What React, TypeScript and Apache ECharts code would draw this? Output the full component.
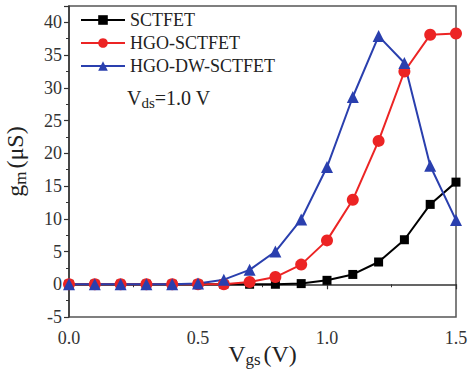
import React, { useEffect, useRef } from "react";
import * as echarts from "echarts";

// Gate voltage sweep (V)
const vgs = [0, 0.1, 0.2, 0.3, 0.4, 0.5, 0.6, 0.7, 0.8, 0.9, 1.0, 1.1, 1.2, 1.3, 1.4, 1.5];

// Transconductance g_m (µS) for each device
const sctfet = [0, 0, 0, 0, 0, 0, 0, 0, 0, 0.1, 0.6, 1.5, 3.4, 6.8, 12.2, 15.6];
const hgoSctfet = [0, 0, 0, 0, 0, 0, 0, 0.35, 1.1, 3.0, 6.7, 12.9, 21.9, 32.5, 38.1, 38.3];
const hgoDwSctfet = [0, 0, 0, 0, 0, 0.1, 0.7, 2.2, 5.0, 9.9, 17.9, 28.6, 37.9, 33.8, 18.1, 9.8];

const seriesNames = ["SCTFET", "HGO-SCTFET", "HGO-DW-SCTFET"];

const FONT = "Liberation Serif";
const AXIS_COLOR = "#333";

const pairs = (ys: number[]) => vgs.map((x, i) => [x, ys[i]]);

export default function App() {
  const ref = useRef<HTMLDivElement>(null);

  useEffect(() => {
    if (!ref.current) return;
    const chart = echarts.init(ref.current, undefined, { renderer: "svg" });

    const axisCommon = {
      axisLine: { show: true, lineStyle: { color: AXIS_COLOR, width: 1.5 } },
      axisTick: { show: true, inside: false, length: 5, lineStyle: { color: AXIS_COLOR, width: 1.2 } },
      minorTick: { show: true, splitNumber: 2, length: 3, lineStyle: { color: AXIS_COLOR, width: 1 } },
      splitLine: { show: false },
    };

    chart.setOption({
      animation: false,
      backgroundColor: "#fff",
      textStyle: { fontFamily: FONT },
      grid: {
        left: 69,
        right: 17,
        top: 6,
        bottom: 60,
        outerBoundsMode: "none",
        containLabel: false,
        show: true,
        borderColor: "#555",
        borderWidth: 1.5,
      },
      legend: {
        data: seriesNames,
        orient: "vertical",
        left: 80,
        top: 11,
        padding: 0,
        itemWidth: 44,
        itemHeight: 12,
        itemGap: 5,
        textStyle: { fontFamily: FONT, fontSize: 18, color: "#222", lineHeight: 16 },
      },
      xAxis: {
        type: "value",
        min: 0,
        max: 1.5,
        interval: 0.5,
        ...axisCommon,
        axisLabel: {
          color: "#333",
          fontFamily: FONT,
          fontSize: 18,
          margin: 12,
          formatter: (v: number) => v.toFixed(1),
        },
        name: "{v|V}{s|gs} {v|(V)}",
        nameLocation: "middle",
        nameGap: 23,
        nameMoveOverlap: false,
        nameTextStyle: {
          rich: {
            v: { fontFamily: FONT, fontSize: 24, color: "#222", lineHeight: 28 },
            s: { fontFamily: FONT, fontSize: 17, color: "#222", verticalAlign: "bottom", padding: [8, 0, 0, 0] },
          },
        },
      },
      yAxis: {
        type: "value",
        min: -5,
        max: 42.5,
        interval: 5,
        ...axisCommon,
        axisLabel: {
          color: "#333",
          fontFamily: FONT,
          fontSize: 18,
          margin: 7,
          showMaxLabel: false,
          formatter: (v: number) => (v % 5 === 0 ? String(v) : ""),
        },
        name: "{v|g}{s|m} {v|(μS)}",
        nameLocation: "middle",
        nameRotate: 90,
        nameGap: 40,
        nameMoveOverlap: false,
        nameTextStyle: {
          rich: {
            v: { fontFamily: FONT, fontSize: 24, color: "#222", lineHeight: 28 },
            s: { fontFamily: FONT, fontSize: 17, color: "#222", verticalAlign: "bottom", padding: [8, 0, 0, 0] },
          },
        },
      },
      series: [
        {
          name: seriesNames[0],
          type: "line",
          data: pairs(sctfet),
          symbol: "rect",
          symbolSize: 9,
          color: "#000",
          lineStyle: { width: 2, color: "#000" },
          itemStyle: { color: "#000" },
        },
        {
          name: seriesNames[1],
          type: "line",
          data: pairs(hgoSctfet),
          symbol: "circle",
          symbolSize: 12,
          color: "#ec2424",
          lineStyle: { width: 2, color: "#ec2424" },
          itemStyle: { color: "#ec2424" },
        },
        {
          name: seriesNames[2],
          type: "line",
          data: pairs(hgoDwSctfet),
          symbol: "triangle",
          symbolSize: 12,
          color: "#2a3fae",
          lineStyle: { width: 2, color: "#2a3fae" },
          itemStyle: { color: "#2a3fae" },
        },
      ],
      graphic: [
        {
          type: "text",
          left: 127,
          top: 88,
          style: {
            text: "{v|V}{s|ds}{v|=1.0 V}",
            rich: {
              v: { fontFamily: FONT, fontSize: 20, fill: "#222", lineHeight: 24 },
              s: { fontFamily: FONT, fontSize: 15, fill: "#222", verticalAlign: "bottom", padding: [7, 0, 0, 0] },
            },
          },
        },
      ],
    });

    return () => chart.dispose();
  }, []);

  // The page keeps its default body margin, so pin the chart to the top-left corner.
  return (
    <div
      ref={ref}
      style={{ position: "absolute", left: 0, top: 0, width: 473, height: 377 }}
    />
  );
}
